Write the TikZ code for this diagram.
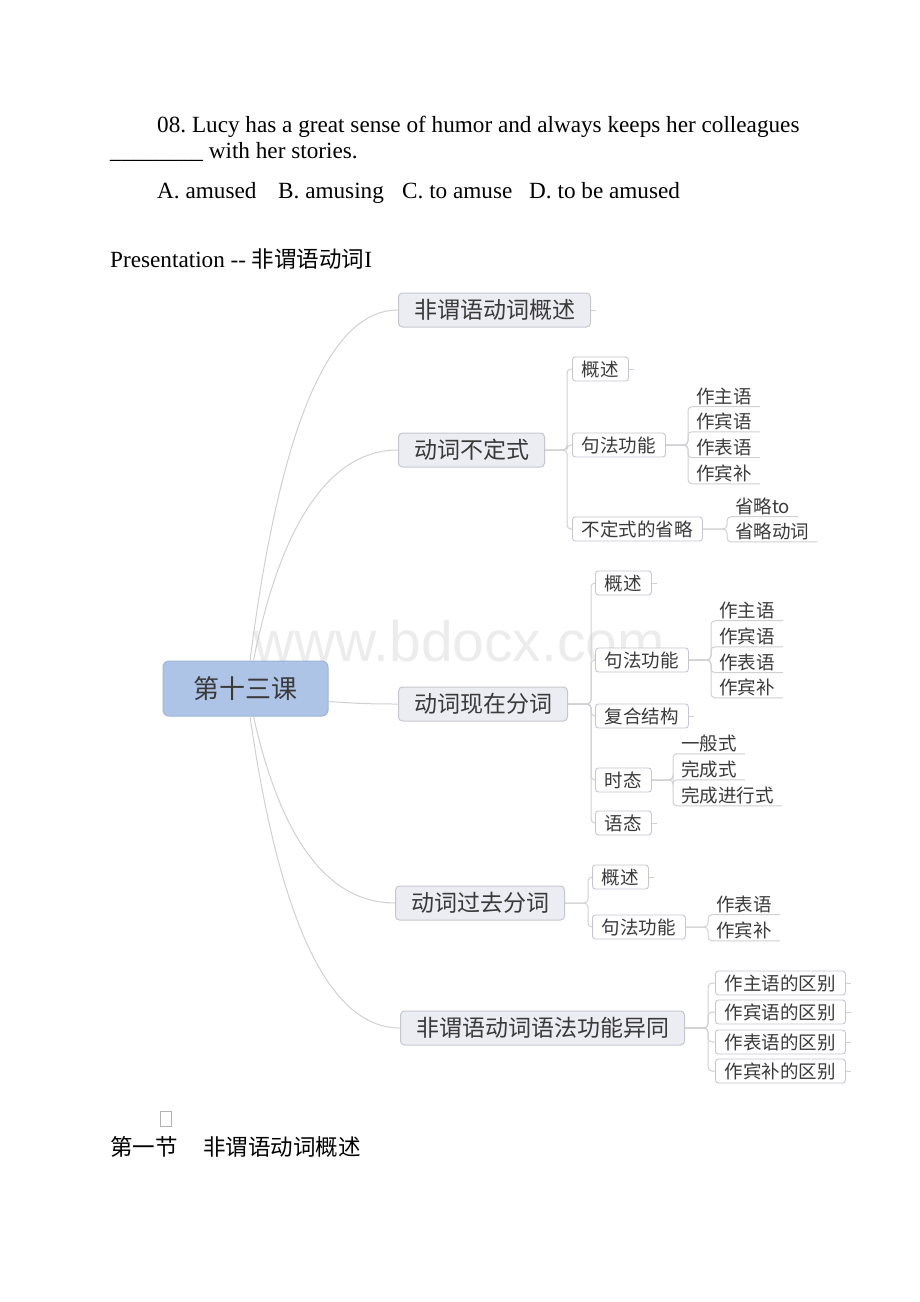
\documentclass[tikz,border=0pt]{standalone}
\usepackage{fontspec}
\setmainfont{Liberation Serif}
\newfontfamily\cjk{Noto Sans CJK SC}
\newfontfamily\wmfont{Liberation Sans}
\usetikzlibrary{positioning}
\frenchspacing
\definecolor{linegray}{RGB}{208,208,212}
\definecolor{boxfill}{RGB}{236,236,243}
\definecolor{boxline}{RGB}{198,198,208}
\definecolor{rootfill}{RGB}{174,196,230}
\definecolor{rootline}{RGB}{158,180,216}
\definecolor{inkgray}{RGB}{58,58,58}
\newcommand\bodyfont{\fontsize{23.2}{28}\selectfont}
\newcommand\cjkbody{\cjk\fontsize{22.5}{28}\selectfont}
\tikzset{
  body/.style={anchor=base west, inner sep=0pt, font=\bodyfont},
  rootbox/.style={draw=rootline, fill=rootfill, rounded corners=6pt, line width=1pt,
    minimum width=165pt, minimum height=55pt, text=inkgray,
    font=\cjk\fontsize{26}{26}\selectfont},
  topic/.style={anchor=west, draw=boxline, fill=boxfill, rounded corners=4pt, line width=1pt,
    inner xsep=15.5pt, minimum height=34pt, text=inkgray,
    font=\cjk\fontsize{23}{23}\selectfont},
  subbox/.style={anchor=west, draw=boxline, fill=white, rounded corners=3pt, line width=0.9pt,
    inner xsep=9.5pt, minimum height=24pt, text=inkgray,
    font=\cjk\fontsize{18.5}{18.5}\selectfont},
  leaf/.style={anchor=west, inner xsep=8pt, inner ysep=2pt, text=inkgray,
    font=\cjk\fontsize{18.5}{18.5}\selectfont},
  branch/.style={draw=linegray, line width=1pt},
  elbow/.style={branch, rounded corners=4pt},
}
\begin{document}
\begin{tikzpicture}[x=1pt,y=-1pt]
\useasboundingbox (0,0) rectangle (920,1302);

% watermark
\node[anchor=base west, inner sep=0pt, text=gray!15,
  font=\wmfont\fontsize{57}{60}\selectfont] (wm) at (253,661) {www.bdocx.com};

% question text
\node[body] (q1) at (157,132) {08. Lucy has a great sense of humor and always keeps her colleagues};
\node[body] (q2) at (110,158) {\_\_\_\_\_\_\_\_ with her stories.};
\node[body] (ansA) at (157,198) {A. amused};
\node[body] (ansB) at (278,198) {B. amusing};
\node[body] (ansC) at (402,198) {C. to amuse};
\node[body] (ansD) at (529,198) {D. to be amused};
\node[body] (pres) at (110,267) {Presentation -{}- {\cjkbody 非谓语动词}I};

% mind map
\node[rootbox] (root) at (245.5,688.5) {第十三课};
\node[topic] (ovw) at (398,310) {非谓语动词概述};
\node[topic] (inf) at (398,450) {动词不定式};
\node[topic] (prp) at (398,704) {动词现在分词};
\node[topic] (pap) at (395,903) {动词过去分词};
\node[topic] (cmp) at (400,1028) {非谓语动词语法功能异同};

\draw[branch] ([xshift=4.5pt]root.north) .. controls +(30,-234) and +(-69,0) .. (ovw.west);
\draw[branch] ([xshift=8pt]root.north) .. controls +(28,-141) and +(-66,0) .. (inf.west);
\draw[branch] ([yshift=-13pt]root.east) .. controls +(30,2) and +(-30,0) .. (prp.west);
\draw[branch] ([xshift=8pt]root.south) .. controls +(28,125) and +(-66,0) .. (pap.west);
\draw[branch] ([xshift=4.5pt]root.south) .. controls +(30,208) and +(-70,0) .. (cmp.west);

% infinitive
\node[subbox] (infA) at (572,369) {概述};
\node[subbox] (infB) at (572,445) {句法功能};
\node[subbox] (infC) at (572,529) {不定式的省略};
\foreach \c in {infA,infB,infC}
  \draw[elbow] (inf.east) -- ++(22,0) |- (\c.west);
\node[leaf] (infB1) at (688,396) {作主语};
\node[leaf] (infB2) at (688,421) {作宾语};
\node[leaf] (infB3) at (688,447) {作表语};
\node[leaf] (infB4) at (688,473) {作宾补};
\foreach \c in {infB1,infB2,infB3,infB4}
  \draw[elbow] (infB.east) -| (\c.south west) -- (\c.south east);
\node[leaf] (infC1) at (727,506) {省略to};
\node[leaf] (infC2) at (727,531) {省略动词};
\foreach \c in {infC1,infC2}
  \draw[elbow] (infC.east) -| (\c.south west) -- (\c.south east);

% present participle
\node[subbox] (prpA) at (595,583) {概述};
\node[subbox] (prpB) at (595,660) {句法功能};
\node[subbox] (prpC) at (595,716) {复合结构};
\node[subbox] (prpD) at (595,780) {时态};
\node[subbox] (prpE) at (595,823) {语态};
\foreach \c in {prpA,prpB,prpC,prpD,prpE}
  \draw[elbow] (prp.east) -- ++(23,0) |- (\c.west);
\node[leaf] (prpB1) at (711,610) {作主语};
\node[leaf] (prpB2) at (711,636) {作宾语};
\node[leaf] (prpB3) at (711,662) {作表语};
\node[leaf] (prpB4) at (711,687) {作宾补};
\foreach \c in {prpB1,prpB2,prpB3,prpB4}
  \draw[elbow] (prpB.east) -| (\c.south west) -- (\c.south east);
\node[leaf] (prpD1) at (673,743) {一般式};
\node[leaf] (prpD2) at (673,769) {完成式};
\node[leaf] (prpD3) at (673,795) {完成进行式};
\foreach \c in {prpD1,prpD2,prpD3}
  \draw[elbow] (prpD.east) -| (\c.south west) -- (\c.south east);

% past participle
\node[subbox] (papA) at (592,877) {概述};
\node[subbox] (papB) at (592,927) {句法功能};
\foreach \c in {papA,papB}
  \draw[elbow] (pap.east) -- ++(23,0) |- (\c.west);
\node[leaf] (papB1) at (708,904) {作表语};
\node[leaf] (papB2) at (708,930) {作宾补};
\foreach \c in {papB1,papB2}
  \draw[elbow] (papB.east) -| (\c.south west) -- (\c.south east);

% comparison
\node[subbox] (cmpA) at (715,983) {作主语的区别};
\node[subbox] (cmpB) at (715,1012) {作宾语的区别};
\node[subbox] (cmpC) at (715,1042) {作表语的区别};
\node[subbox] (cmpD) at (715,1071) {作宾补的区别};
\foreach \c in {cmpA,cmpB,cmpC,cmpD}
  \draw[elbow] (cmp.east) -- ++(23,0) |- (\c.west);

% small stubs on leaf boxes
\foreach \c in {ovw,infA,prpA,prpC,prpE,papA,cmpA,cmpB,cmpC,cmpD}
  \draw[branch] (\c.east) -- ++(5,0);

% text below
\draw[gray!60, line width=0.6pt] (160,1111) rectangle (171,1126);
\node[body, font=\cjkbody] (sec) at (110,1155) {第一节};
\node[body, font=\cjkbody] (secT) at (203,1155) {非谓语动词概述};
\end{tikzpicture}
\end{document}
